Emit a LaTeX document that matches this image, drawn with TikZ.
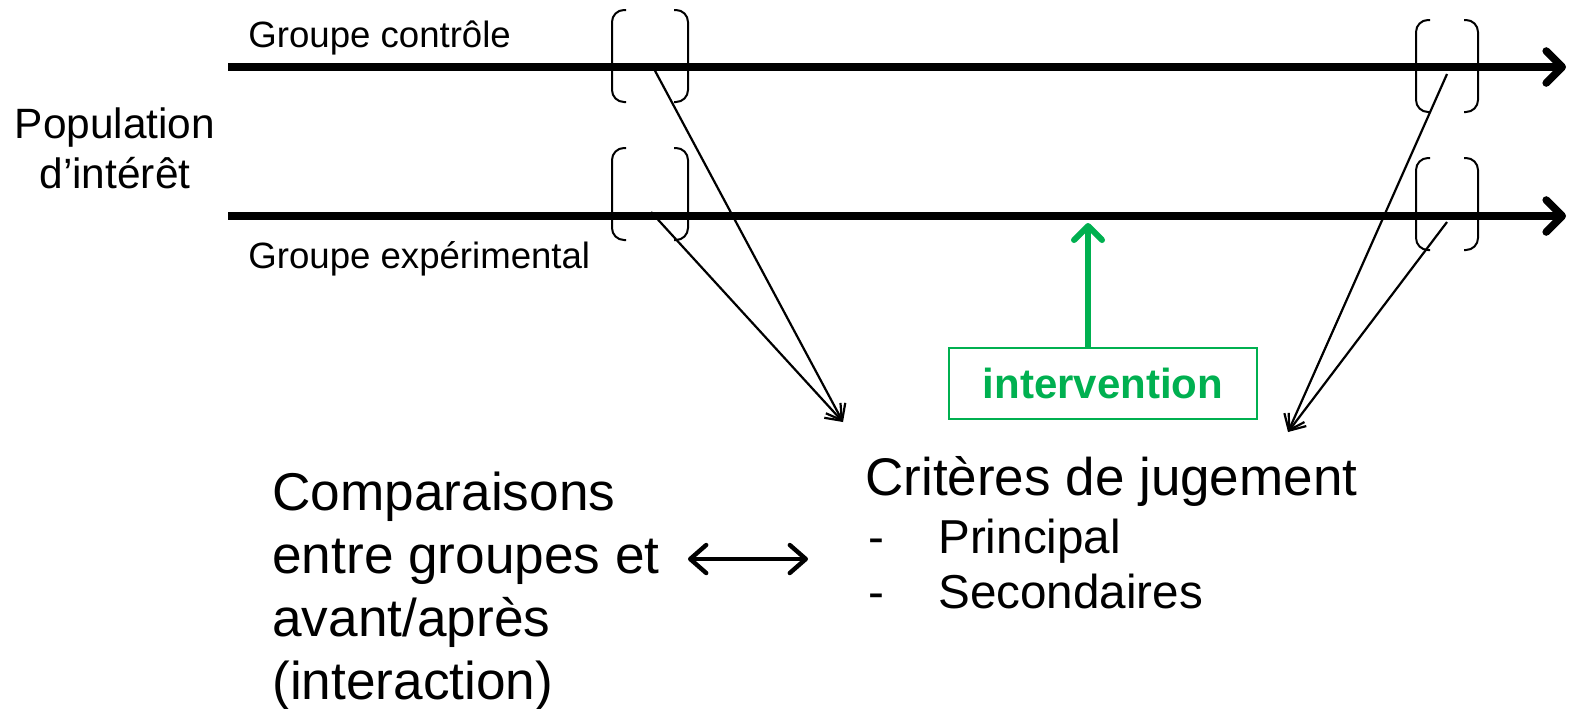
\documentclass[tikz,border=0pt]{standalone}
\usepackage{fontspec}
\setmainfont{Liberation Sans}
\usetikzlibrary{arrows.meta}
\definecolor{vertinter}{RGB}{0,176,80}
\tikzset{
  ligne/.style={line width=3.8pt,-{Straight Barb[length=8pt,width=16pt,round]}},
  fleche/.style={line width=1.1pt,-{Straight Barb[length=7pt,width=11pt]}},
  crochet/.style={line width=1pt,rounded corners=6pt},
  texte/.style={inner sep=0pt,anchor=base west},
}
\begin{document}
\begin{tikzpicture}[x=0.5pt,y=-0.5pt]
  \useasboundingbox (0,0) rectangle (1572,708);
  % les deux groupes
  \coordinate (debC) at (228,67);
  \coordinate (finC) at (1566,67);
  \coordinate (debE) at (228,216);
  \coordinate (finE) at (1566,216);
  \draw[ligne] (debC) -- (finC);
  \draw[ligne] (debE) -- (finE);
  \node[texte,font=\fontsize{18.3}{22}\selectfont] (controle) at (248,47) {Groupe contrôle};
  \node[texte,font=\fontsize{18.3}{22}\selectfont] (experim) at (248,268) {Groupe expérimental};
  % la base d'un texte sur plusieurs lignes est celle de la derniere ligne
  \node[inner sep=0pt,anchor=base,align=center,font=\fontsize{21.2}{25}\selectfont] (popu) at (115,188) {Population\\d’intérêt};
  % crochets (avant / apres)
  \foreach \x/\y/\w in {612/10/76, 612/148/76, 1416/20/62, 1416/158/62}{
    \draw[crochet] (\x+14,\y) -- (\x,\y) -- (\x,\y+92) -- (\x+14,\y+92);
    \draw[crochet] (\x+\w-14,\y) -- (\x+\w,\y) -- (\x+\w,\y+92) -- (\x+\w-14,\y+92);
  }
  % mesures vers les criteres
  \coordinate (avC) at (653,67);
  \coordinate (avE) at (651,212);
  \coordinate (apC) at (1447,74);
  \coordinate (apE) at (1447,222);
  \coordinate (jugG) at (843,422);
  \coordinate (jugD) at (1288,432);
  \draw[fleche] (avC) -- (jugG);
  \draw[fleche] (avE) -- (jugG);
  \draw[fleche] (apC) -- (jugD);
  \draw[fleche] (apE) -- (jugD);
  % intervention
  \node[draw=vertinter,line width=1pt,text=vertinter,minimum width=154pt,minimum height=35.5pt,
        font=\fontsize{21}{25}\selectfont\bfseries] (interv) at (1103,383.5) {intervention};
  \coordinate (cible) at (1088,223);
  \draw[vertinter,line width=3pt,-{Straight Barb[length=7pt,width=14pt,round]}] (interv.north -| cible) -- (cible);
  % criteres de jugement
  \node[texte,font=\fontsize{26.5}{31}\selectfont] (crit) at (865,495) {Critères de jugement};
  \node[texte,font=\fontsize{23.8}{27.5}\selectfont,align=left] (listecrit) at (868,608)
    {\makebox[35pt][l]{-}Principal\\\makebox[35pt][l]{-}Secondaires};
  % comparaisons
  \node[texte,font=\fontsize{26.6}{31.5}\selectfont,align=left] (comp) at (272,699)
    {Comparaisons\\entre groupes et\\avant/après\\(interaction)};
  \coordinate (gA) at (688,559);
  \coordinate (gB) at (808,559);
  \draw[line width=2.2pt,{Straight Barb[length=8pt,width=14pt,round]}-{Straight Barb[length=8pt,width=14pt,round]}] (gA) -- (gB);
\end{tikzpicture}
\end{document}
